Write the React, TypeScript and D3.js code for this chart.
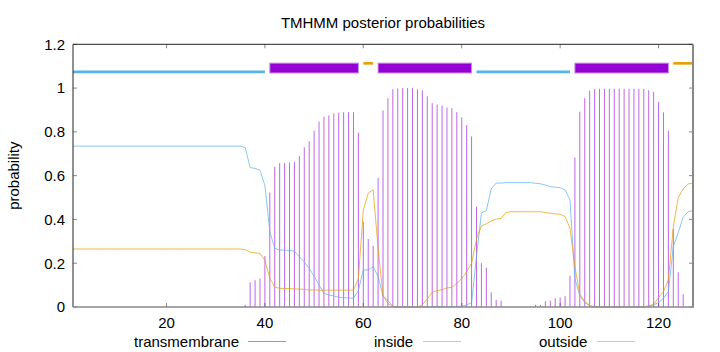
import * as d3 from 'd3';

// TMHMM posterior probabilities, residue 1..127
const residues: number[] = d3.range(1, 128);

const transmembrane: number[] = [
  0, 0, 0, 0, 0, 0, 0, 0, 0, 0,
  0, 0, 0, 0, 0, 0, 0, 0, 0, 0,
  0, 0, 0, 0, 0, 0, 0, 0, 0, 0,
  0, 0, 0, 0, 0, 0.01, 0.113, 0.123, 0.13, 0.233,
  0.523, 0.64, 0.657, 0.657, 0.66, 0.662, 0.69, 0.73, 0.757, 0.805,
  0.847, 0.869, 0.875, 0.884, 0.887, 0.89, 0.89, 0.89, 0.796, 0.39,
  0.31, 0.28, 0.59, 0.898, 0.954, 0.995, 0.998, 1, 1, 1,
  0.994, 0.989, 0.962, 0.931, 0.924, 0.92, 0.911, 0.908, 0.89, 0.866,
  0.831, 0.779, 0.459, 0.2, 0.18, 0.067, 0.033, 0.029, 0, 0,
  0, 0, 0, 0, 0.01, 0.01, 0.026, 0.029, 0.04, 0.043,
  0.05, 0.143, 0.683, 0.892, 0.954, 0.988, 0.995, 0.997, 0.997, 0.997,
  0.997, 0.997, 0.997, 0.997, 0.997, 0.997, 0.996, 0.99, 0.983, 0.937,
  0.889, 0.805, 0.357, 0.159, 0.059, 0, 0,
];

const inside: number[] = [
  0.735, 0.735, 0.735, 0.735, 0.735, 0.735, 0.735, 0.735, 0.735, 0.735,
  0.735, 0.735, 0.735, 0.735, 0.735, 0.735, 0.735, 0.735, 0.735, 0.735,
  0.735, 0.735, 0.735, 0.735, 0.735, 0.735, 0.735, 0.735, 0.735, 0.735,
  0.735, 0.735, 0.735, 0.735, 0.735, 0.728, 0.637, 0.633, 0.625, 0.555,
  0.345, 0.268, 0.26, 0.26, 0.258, 0.255, 0.23, 0.205, 0.177, 0.14,
  0.1, 0.062, 0.055, 0.05, 0.045, 0.043, 0.041, 0.04, 0.075, 0.169,
  0.17, 0.184, 0.14, 0.05, 0.03, 0.003, 0, 0, 0, 0,
  0, 0, 0, 0.001, 0.001, 0.001, 0.001, 0.001, 0.002, 0.004,
  0.009, 0.02, 0.23, 0.43, 0.44, 0.54, 0.566, 0.566, 0.568, 0.568,
  0.568, 0.568, 0.568, 0.568, 0.565, 0.563, 0.557, 0.55, 0.547, 0.545,
  0.535, 0.49, 0.13, 0.05, 0.02, 0.006, 0, 0, 0, 0,
  0, 0, 0, 0, 0, 0, 0, 0.005, 0.01, 0.02,
  0.04, 0.07, 0.276, 0.34, 0.41, 0.435, 0.44,
];

const outside: number[] = [
  0.265, 0.265, 0.265, 0.265, 0.265, 0.265, 0.265, 0.265, 0.265, 0.265,
  0.265, 0.265, 0.265, 0.265, 0.265, 0.265, 0.265, 0.265, 0.265, 0.265,
  0.265, 0.265, 0.265, 0.265, 0.265, 0.265, 0.265, 0.265, 0.265, 0.265,
  0.265, 0.265, 0.265, 0.265, 0.265, 0.262, 0.25, 0.247, 0.245, 0.212,
  0.132, 0.092, 0.085, 0.085, 0.084, 0.083, 0.082, 0.08, 0.078, 0.078,
  0.077, 0.077, 0.077, 0.077, 0.077, 0.077, 0.077, 0.077, 0.13, 0.443,
  0.52, 0.535, 0.27, 0.052, 0.016, 0.002, 0, 0, 0, 0,
  0, 0.01, 0.037, 0.068, 0.075, 0.079, 0.087, 0.09, 0.108, 0.13,
  0.16, 0.2, 0.31, 0.37, 0.38, 0.393, 0.401, 0.405, 0.432, 0.435,
  0.435, 0.435, 0.435, 0.435, 0.435, 0.435, 0.432, 0.428, 0.425, 0.424,
  0.413, 0.36, 0.184, 0.058, 0.026, 0.006, 0, 0, 0, 0,
  0, 0, 0, 0, 0, 0, 0, 0.005, 0.012, 0.043,
  0.07, 0.125, 0.367, 0.5, 0.54, 0.562, 0.566,
];

// predicted topology drawn above the curves
const topoKinds: string[] = ['inside', 'TMhelix', 'outside', 'TMhelix', 'inside', 'TMhelix', 'outside'];
const topoStart: number[] = [1, 41, 60, 63, 83, 103, 123];
const topoEnd: number[] = [40, 59, 62, 82, 102, 122, 127];

const xTicks: number[] = [20, 40, 60, 80, 100, 120];
const yTicks: number[] = [0, 0.2, 0.4, 0.6, 0.8, 1, 1.2];

const legendNames: string[] = ['transmembrane', 'inside', 'outside'];

const PURPLE = '#9400d3';
const BLUE = '#56b4e9';
const ORANGE = '#e69f00';
const FONT = "'Liberation Sans', Arial, Helvetica, sans-serif";

export default function App() {
  const width = 720;
  const height = 352;
  const left = 73;
  const right = 693;
  const top = 44.3;
  const bottom = 307;

  const x = d3.scaleLinear().domain([1, 127]).range([left, right]);
  const y = d3.scaleLinear().domain([0, 1.2]).range([bottom, top]);

  const line = d3
    .line<number>()
    .x((_, i) => x(residues[i]))
    .y((d) => y(d));

  const legendColours = ['#c277e8', '#9fd3f0', '#f1c56a'];
  const legendText = [[134, 248], [374, 423], [539, 597]];

  return (
    <svg
      width={width}
      height={height}
      style={{ position: 'absolute', left: 0, top: 0, background: '#fff' }}
      fontFamily={FONT}
    >
      <text x={(left + right) / 2} y={28} textAnchor="middle" fontSize={15}>
        TMHMM posterior probabilities
      </text>

      <text
        transform={`translate(19,${(top + bottom) / 2}) rotate(-90)`}
        textAnchor="middle"
        fontSize={15}
      >
        probability
      </text>

      {/* ticks */}
      {yTicks.map((t) => (
        <g key={`y${t}`}>
          <line x1={left} x2={left + 4} y1={y(t)} y2={y(t)} stroke="#888" strokeWidth={1} />
          <line x1={right - 4} x2={right} y1={y(t)} y2={y(t)} stroke="#888" strokeWidth={1} />
          <text x={65} y={y(t)} dy="0.36em" textAnchor="end" fontSize={15}>
            {d3.format('~g')(t)}
          </text>
        </g>
      ))}
      {xTicks.map((t) => (
        <g key={`x${t}`}>
          <line x1={x(t)} x2={x(t)} y1={bottom} y2={bottom - 4} stroke="#888" strokeWidth={1} />
          <line x1={x(t)} x2={x(t)} y1={top} y2={top + 4} stroke="#888" strokeWidth={1} />
          <text x={x(t)} y={327.5} textAnchor="middle" fontSize={15}>
            {t}
          </text>
        </g>
      ))}

      {/* transmembrane impulses */}
      {transmembrane.map((v, i) =>
        v > 0 ? (
          <line
            key={`tm${i}`}
            x1={x(residues[i])}
            x2={x(residues[i])}
            y1={y(0)}
            y2={y(v)}
            stroke={PURPLE}
            strokeOpacity={0.6}
            strokeWidth={1}
          />
        ) : null
      )}

      <path d={line(inside) ?? ''} fill="none" stroke={BLUE} strokeOpacity={0.8} strokeWidth={0.9} />
      <path d={line(outside) ?? ''} fill="none" stroke={ORANGE} strokeOpacity={0.8} strokeWidth={0.9} />

      {/* topology */}
      {topoKinds.map((k, i) => {
        const x0 = x(topoStart[i]);
        const x1 = x(topoEnd[i]);
        if (k === 'TMhelix') {
          return (
            <rect
              key={`topo${i}`}
              x={x0}
              y={y(1.114)}
              width={x1 - x0}
              height={y(1.069) - y(1.114)}
              fill={PURPLE}
              stroke="#c98ce8"
              strokeWidth={1}
            />
          );
        }
        const v = k === 'inside' ? 1.074 : 1.113;
        return (
          <line
            key={`topo${i}`}
            x1={x0}
            x2={x1}
            y1={y(v)}
            y2={y(v)}
            stroke={k === 'inside' ? BLUE : ORANGE}
            strokeWidth={2.6}
          />
        );
      })}

      {/* border */}
      <line x1={left} x2={right} y1={top} y2={top} stroke="#222" strokeWidth={1} />
      <line x1={left} x2={left} y1={top} y2={bottom} stroke="#222" strokeWidth={1} />
      <line x1={left} x2={right + 1} y1={bottom} y2={bottom} stroke="#888" strokeWidth={1.6} />
      <line x1={right} x2={right} y1={top} y2={bottom} stroke="#888" strokeWidth={2} />

      {/* legend */}
      {legendNames.map((name, i) => (
        <g key={name}>
          <text x={legendText[i][0]} y={346.5} fontSize={15}>
            {name}
          </text>
          <line
            x1={legendText[i][1]}
            x2={legendText[i][1] + 38}
            y1={341.5}
            y2={341.5}
            stroke={legendColours[i]}
            strokeWidth={1}
          />
        </g>
      ))}
    </svg>
  );
}
